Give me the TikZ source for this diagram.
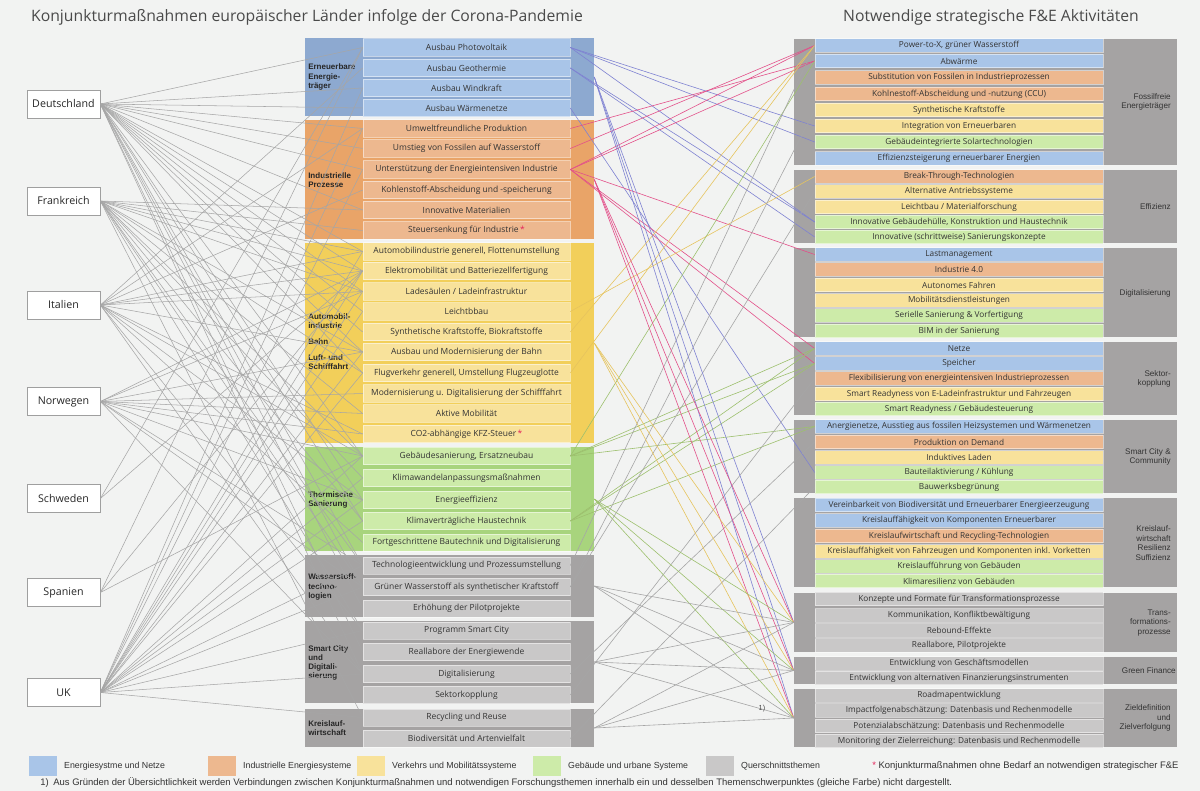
\documentclass[tikz,border=0pt]{standalone}
\usepackage{fontspec}
\setmainfont{Open Sans}
\newfontfamily\arialfont{Liberation Sans}
\usetikzlibrary{positioning}

\definecolor{bgcol}{HTML}{F2F3F2}
\definecolor{txtcol}{HTML}{333333}
\definecolor{titcol}{HTML}{4A4A4A}
\definecolor{astcol}{HTML}{E5245A}
% Themenfarben: Feld / Gruppe
\definecolor{blueitem}{HTML}{A9C5E8}
\definecolor{bluegrp}{HTML}{8DA9D0}
\definecolor{orangeitem}{HTML}{EDB88F}
\definecolor{orangegrp}{HTML}{E9A468}
\definecolor{yellowitem}{HTML}{F8E29B}
\definecolor{yellowgrp}{HTML}{F2CF5A}
\definecolor{greenitem}{HTML}{CDEBA9}
\definecolor{greengrp}{HTML}{A8D47D}
\definecolor{grayitem}{HTML}{C9C8C8}
\definecolor{graygrp}{HTML}{A5A3A3}
% Linienfarben
\definecolor{lnblue}{HTML}{7F82D2}
\definecolor{lnpink}{HTML}{E3508A}
\definecolor{lnyellow}{HTML}{E6C45E}
\definecolor{lngreen}{HTML}{9DC06E}
\definecolor{lngray}{HTML}{A6A6A6}

\tikzset{
  mgroup/.style={rectangle, inner sep=0pt, minimum width=216.75pt},
  rgroup/.style={rectangle, inner sep=0pt, minimum width=287.25pt, fill=graygrp},
  mitem/.style={rectangle, inner sep=0pt, minimum width=155.25pt, minimum height=13pt,
    draw=white, draw opacity=0.5, line width=0.5pt,
    font=\fontsize{6.35}{7}\selectfont, text=txtcol},
  ritem/.style={rectangle, inner sep=0pt, minimum width=216pt, minimum height=10.2pt,
    draw=white, draw opacity=0.5, line width=0.5pt,
    font=\fontsize{6.2}{7}\selectfont, text=txtcol},
  blu/.style={fill=blueitem}, ora/.style={fill=orangeitem}, yel/.style={fill=yellowitem},
  gre/.style={fill=greenitem}, gra/.style={fill=grayitem},
  country/.style={draw=gray!75, fill=white, line width=0.6pt, minimum width=54.75pt,
    minimum height=21pt, inner sep=0pt, font=\fontsize{8}{9}\selectfont, text=black!85},
  mlabel/.style={anchor=west, align=left, inner sep=0pt,
    font=\arialfont\bfseries\fontsize{6}{6.9}\selectfont, text=black!85},
  rlabel/.style={anchor=east, align=right, inner sep=0pt,
    font=\arialfont\fontsize{6.1}{7.1}\selectfont, text=black!80},
  headline/.style={font=\fontsize{11.8}{13}\selectfont, text=titcol},
  legbox/.style={rectangle, inner sep=0pt, minimum width=21pt, minimum height=15pt},
  legtext/.style={inner sep=0pt, font=\arialfont\fontsize{6.6}{7.5}\selectfont, text=black!80},
  foottext/.style={inner sep=0pt, font=\arialfont\fontsize{7.1}{8}\selectfont, text=black!80},
  cline/.style={draw=lngray, line width=0.4pt},
  link/.style={line width=0.45pt},
}

\newcommand{\redstar}{\,\textcolor{astcol}{*}}

\begin{document}
\begin{tikzpicture}[x=0.75pt, y=-0.75pt]
\fill[bgcol] (0,0) rectangle (1200,791);

% Ueberschriften
\node[headline] (titleL) at (307,17) {Konjunkturmaßnahmen europäischer Länder infolge der Corona-Pandemie};
\node[headline] (titleR) at (991,17) {Notwendige strategische F\&E Aktivitäten};

% Laender
\node[country] (de) at (63.5,104) {Deutschland};
\node[country] (fr) at (63.5,201) {Frankreich};
\node[country] (it) at (63.5,305) {Italien};
\node[country] (no) at (63.5,401.5) {Norwegen};
\node[country] (se) at (63.5,498.5) {Schweden};
\node[country] (es) at (63.5,592.5) {Spanien};
\node[country] (uk) at (63.5,692.5) {UK};

% Konjunkturmassnahmen: Gruppen
\node[mgroup, fill=bluegrp, minimum height=58.5pt] (mg1) at (449.5,77) {};
\node[mgroup, fill=orangegrp, minimum height=89.25pt] (mg2) at (449.5,179.5) {};
\node[mgroup, fill=yellowgrp, minimum height=150pt] (mg3) at (449.5,343) {};
\node[mgroup, fill=greengrp, minimum height=78pt] (mg4) at (449.5,499) {};
\node[mgroup, fill=graygrp, minimum height=46.5pt] (mg5) at (449.5,586) {};
\node[mgroup, fill=graygrp, minimum height=61.5pt] (mg6) at (449.5,662) {};
\node[mgroup, fill=graygrp, minimum height=28.5pt] (mg7) at (449.5,728) {};

\node[mlabel] (mgl1) at (308,77) {Erneuerbare\\Energie-\\träger};
\node[mlabel] (mgl2) at (308,180) {Industrielle\\Prozesse};
\node[mlabel] (mgl3) at (308,342) {Automobil-\\industrie\\[5pt]Bahn\\[5pt]Luft- und\\Schifffahrt};
\node[mlabel] (mgl4) at (308,500) {Thermische\\Sanierung};
\node[mlabel] (mgl5) at (308,587) {Wasserstoff-\\techno-\\logien};
\node[mlabel] (mgl6) at (308,663) {Smart City\\und\\Digitali-\\sierung};
\node[mlabel] (mgl7) at (308,728) {Kreislauf-\\wirtschaft};

% Konjunkturmassnahmen: Felder
\node[mitem, blu] (m1) at (466.5,47.5) {Ausbau Photovoltaik};
\node[mitem, blu] (m2) at (466.5,68) {Ausbau Geothermie};
\node[mitem, blu] (m3) at (466.5,88) {Ausbau Windkraft};
\node[mitem, blu] (m4) at (466.5,108) {Ausbau Wärmenetze};
\node[mitem, ora] (m5) at (466.5,128.5) {Umweltfreundliche Produktion};
\node[mitem, ora] (m6) at (466.5,148.5) {Umstieg von Fossilen auf Wasserstoff};
\node[mitem, ora] (m7) at (466.5,169.5) {Unterstützung der Energieintensiven Industrie};
\node[mitem, ora] (m8) at (466.5,190) {Kohlenstoff-Abscheidung und -speicherung};
\node[mitem, ora] (m9) at (466.5,210) {Innovative Materialien};
\node[mitem, ora] (m10) at (466.5,230.5) {Steuersenkung für Industrie\redstar};
\node[mitem, yel] (m11) at (466.5,251.5) {Automobilindustrie generell, Flottenumstellung};
\node[mitem, yel] (m12) at (466.5,271) {Elektromobilität und Batteriezellfertigung};
\node[mitem, yel] (m13) at (466.5,291.5) {Ladesäulen / Ladeinfrastruktur};
\node[mitem, yel] (m14) at (466.5,311.5) {Leichtbbau};
\node[mitem, yel] (m15) at (466.5,332) {Synthetische Kraftstoffe, Biokraftstoffe};
\node[mitem, yel] (m16) at (466.5,352) {Ausbau und Modernisierung der Bahn};
\node[mitem, yel] (m17) at (466.5,373) {Flugverkehr generell, Umstellung Flugzeuglotte};
\node[mitem, yel] (m18) at (466.5,393.5) {Modernisierung u. Digitalisierung der Schifffahrt};
\node[mitem, yel] (m19) at (466.5,413.5) {Aktive Mobilität};
\node[mitem, yel] (m20) at (466.5,434) {CO2-abhängige KFZ-Steuer\redstar};
\node[mitem, gre] (m21) at (466.5,456) {Gebäudesanierung, Ersatzneubau};
\node[mitem, gre] (m22) at (466.5,478) {Klimawandelanpassungsmaßnahmen};
\node[mitem, gre] (m23) at (466.5,500) {Energieeffizienz};
\node[mitem, gre] (m24) at (466.5,521) {Klimaverträgliche Haustechnik};
\node[mitem, gre] (m25) at (466.5,542.5) {Fortgeschrittene Bautechnik und Digitalisierung};
\node[mitem, gra] (m26) at (466.5,565.5) {Technologieentwicklung und Prozessumstellung};
\node[mitem, gra] (m27) at (466.5,587) {Grüner Wasserstoff als synthetischer Kraftstoff};
\node[mitem, gra] (m28) at (466.5,608.5) {Erhöhung der Pilotprojekte};
\node[mitem, gra] (m29) at (466.5,630.5) {Programm Smart City};
\node[mitem, gra] (m30) at (466.5,652) {Reallabore der Energiewende};
\node[mitem, gra] (m31) at (466.5,674) {Digitalisierung};
\node[mitem, gra] (m32) at (466.5,695) {Sektorkopplung};
\node[mitem, gra] (m33) at (466.5,717.5) {Recycling und Reuse};
\node[mitem, gra] (m34) at (466.5,738.5) {Biodiversität und Artenvielfalt};

% F&E Aktivitaeten: Gruppen
\node[rgroup, minimum height=94.5pt] (rg1) at (985.5,102) {};
\node[rgroup, minimum height=54.75pt] (rg2) at (985.5,206.5) {};
\node[rgroup, minimum height=66.75pt] (rg3) at (985.5,292.5) {};
\node[rgroup, minimum height=54.75pt] (rg4) at (985.5,378.5) {};
\node[rgroup, minimum height=54.75pt] (rg5) at (985.5,456.5) {};
\node[rgroup, minimum height=66.75pt] (rg6) at (985.5,542.5) {};
\node[rgroup, minimum height=44.25pt] (rg7) at (985.5,622.5) {};
\node[rgroup, minimum height=20.25pt] (rg8) at (985.5,670.5) {};
\node[rgroup, minimum height=43.5pt] (rg9) at (985.5,718) {};

\node[rlabel] (rgl1) at (1171,102) {Fossilfreie\\Energieträger};
\node[rlabel] (rgl2) at (1171,207) {Effizienz};
\node[rlabel] (rgl3) at (1171,293) {Digitalisierung};
\node[rlabel] (rgl4) at (1171,379) {Sektor-\\kopplung};
\node[rlabel] (rgl5) at (1171,457) {Smart City \&\\Community};
\node[rlabel] (rgl6) at (1171,543) {Kreislauf-\\wirtschaft\\Resilienz\\Suffizienz};
\node[rlabel] (rgl7) at (1171,623) {Trans-\\formations-\\prozesse};
\node[rlabel] (rgl8) at (1176,671) {Green Finance};
\node[rlabel] (rgl9) at (1171,718) {Zieldefinition\\und\\Zielverfolgung};

% F&E Aktivitaeten: Felder
\node[ritem, blu] (r1) at (959,45.5) {Power-to-X, grüner Wasserstoff};
\node[ritem, blu] (r2) at (959,61) {Abwärme};
\node[ritem, ora] (r3) at (959,77.5) {Substitution von Fossilen in Industrieprozessen};
\node[ritem, ora] (r4) at (959,94) {Kohlnestoff-Abscheidung und -nutzung (CCU)};
\node[ritem, yel] (r5) at (959,110) {Synthetische Kraftstoffe};
\node[ritem, yel] (r6) at (959,126) {Integration von Erneuerbaren};
\node[ritem, gre] (r7) at (959,142) {Gebäudeintegrierte Solartechnologien};
\node[ritem, blu] (r8) at (959,158.5) {Effizienzsteigerung erneuerbarer Energien};
\node[ritem, ora] (r9) at (959,176.5) {Break-Through-Technologien};
\node[ritem, yel] (r10) at (959,191.5) {Alternative Antriebssysteme};
\node[ritem, yel] (r11) at (959,207) {Leichtbau / Materialforschung};
\node[ritem, gre] (r12) at (959,222) {Innovative Gebäudehülle, Konstruktion und Haustechnik};
\node[ritem, gre] (r13) at (959,237) {Innovative (schrittweise) Sanierungskonzepte};
\node[ritem, blu] (r14) at (959,254.5) {Lastmanagement};
\node[ritem, ora] (r15) at (959,269.5) {Industrie 4.0};
\node[ritem, yel] (r16) at (959,285) {Autonomes Fahren};
\node[ritem, yel] (r17) at (959,300.5) {Mobilitätsdienstleistungen};
\node[ritem, gre] (r18) at (959,315.5) {Serielle Sanierung \& Vorfertigung};
\node[ritem, gre] (r19) at (959,331) {BIM in der Sanierung};
\node[ritem, blu] (r20) at (959,348.5) {Netze};
\node[ritem, blu] (r21) at (959,363.5) {Speicher};
\node[ritem, ora] (r22) at (959,378.5) {Flexibilisierung von energieintensiven Industrieprozessen};
\node[ritem, yel] (r23) at (959,394) {Smart Readyness von E-Ladeinfrastruktur und Fahrzeugen};
\node[ritem, gre] (r24) at (959,409) {Smart Readyness / Gebäudesteuerung};
\node[ritem, blu] (r25) at (959,426.5) {Anergienetze, Ausstieg aus fossilen Heizsystemen und Wärmenetzen};
\node[ritem, ora] (r26) at (959,442) {Produktion on Demand};
\node[ritem, yel] (r27) at (959,457.5) {Induktives Laden};
\node[ritem, gre] (r28) at (959,472.5) {Bauteilaktivierung / Kühlung};
\node[ritem, gre] (r29) at (959,487) {Bauwerksbegrünung};
\node[ritem, blu] (r30) at (959,505) {Vereinbarkeit von Biodiversität und Erneuerbarer Energieerzeugung};
\node[ritem, blu] (r31) at (959,520.5) {Kreislauffähigkeit von Komponenten Erneuerbarer};
\node[ritem, ora] (r32) at (959,536) {Kreislaufwirtschaft und Recycling-Technologien};
\node[ritem, yel] (r33) at (959,551.5) {Kreislauffähigkeit von Fahrzeugen und Komponenten inkl. Vorketten};
\node[ritem, gre] (r34) at (959,566.5) {Kreislaufführung von Gebäuden};
\node[ritem, gre] (r35) at (959,581) {Klimaresilienz von Gebäuden};
\node[ritem, gra] (r36) at (959,599) {Konzepte und Formate für Transformationsprozesse};
\node[ritem, gra] (r37) at (959,615.5) {Kommunikation, Konfliktbewältigung};
\node[ritem, gra] (r38) at (959,630.5) {Rebound-Effekte};
\node[ritem, gra] (r39) at (959,645.5) {Reallabore, Pilotprojekte};
\node[ritem, gra] (r40) at (959,663.5) {Entwicklung von Geschäftsmodellen};
\node[ritem, gra] (r41) at (959,678) {Entwicklung von alternativen Finanzierungsinstrumenten};
\node[ritem, gra] (r42) at (959,695.5) {Roadmapentwicklung};
\node[ritem, gra] (r43) at (959,710.5) {Impactfolgenabschätzung: Datenbasis und Rechenmodelle};
\node[ritem, gra] (r44) at (959,726) {Potenzialabschätzung: Datenbasis und Rechenmodelle};
\node[ritem, gra] (r45) at (959,741) {Monitoring der Zielerreichung: Datenbasis und Rechenmodelle};

% Laender -> Massnahmen
\foreach \i in {1,3,4,5,6,7,9,11,12,13,14,15,16,17,21,23,24,26,27,28,30,31}
  \draw[cline] (de.east) -- (m\i.west);
\foreach \i in {9,10,11,12,13,16,17,19,21,22,24,26,27,29,33}
  \draw[cline] (fr.east) -- (m\i.west);
\foreach \i in {2,5,8,11,12,13,16,20,21,23,25,29,31}
  \draw[cline] (it.east) -- (m\i.west);
\foreach \i in {12,13,16,18,19,20,21,23,26,27,31}
  \draw[cline] (no.east) -- (m\i.west);
\foreach \i in {1,12}
  \draw[cline] (se.east) -- (m\i.west);
\foreach \i in {1,12,21}
  \draw[cline] (es.east) -- (m\i.west);
\foreach \i in {3,5,7,11,12,13,14,16,17,21,22,23,24,26,27,29,31,33}
  \draw[cline] (uk.east) -- (m\i.west);

% Massnahmen -> F&E (nur zwischen verschiedenen Farben)
\foreach \a/\b in {1/6,1/7,1/12,2/12,2/13,4/28}
  \draw[link, lnblue] (m\a.east) -- (r\b.west);
\foreach \a/\b in {5/2,6/1,7/1,7/2,7/14,7/20,7/21}
  \draw[link, lnpink] (m\a.east) -- (r\b.west);
\foreach \a/\b in {14/9,15/1,17/1}
  \draw[link, lnyellow] (m\a.east) -- (r\b.west);
\foreach \a/\b in {21/2,21/20,21/21,21/25,24/20,24/21,24/25}
  \draw[link, lngreen] (m\a.east) -- (r\b.west);
\foreach \a/\b in {26/1,27/5,27/10,31/26,32/22,34/29}
  \draw[link, lngray] (m\a.east) -- (r\b.west);

% Gruppen -> Querschnittsthemen
\foreach \g/\c in {1/lnblue,2/lnpink,3/lnyellow,4/lngreen,5/lngray,6/lngray,7/lngray}
  \foreach \t in {7,8,9}
    \draw[link, \c] (mg\g.east) -- (rg\t.west);

\node[font=\arialfont\fontsize{5.5}{6}\selectfont, text=black!70] (note) at (762,709) {1)};

% Legende
\node[legbox, fill=blueitem] (lg1) at (43,766) {};
\node[legtext, right=5pt of lg1] (lt1) {Energiesystme und Netze};
\node[legbox, fill=orangeitem] (lg2) at (222,766) {};
\node[legtext, right=5pt of lg2] (lt2) {Industrielle Energiesysteme};
\node[legbox, fill=yellowitem] (lg3) at (371,766) {};
\node[legtext, right=5pt of lg3] (lt3) {Verkehrs und Mobilitätssysteme};
\node[legbox, fill=greenitem] (lg4) at (547,766) {};
\node[legtext, right=5pt of lg4] (lt4) {Gebäude und urbane Systeme};
\node[legbox, fill=grayitem] (lg5) at (720,766) {};
\node[legtext, right=5pt of lg5] (lt5) {Querschnittsthemen};
\node[foottext, anchor=west] (lt6) at (872,766) {\textcolor{astcol}{*} Konjunkturmaßnahmen ohne Bedarf an notwendigen strategischer F\&E};
\node[foottext, anchor=west] (foot) at (40,783) {1)\enspace Aus Gründen der Übersichtlichkeit werden Verbindungen zwischen Konjunkturmaßnahmen und notwendigen Forschungsthemen innerhalb ein und desselben Themenschwerpunktes (gleiche Farbe) nicht dargestellt.};
\end{tikzpicture}
\end{document}
